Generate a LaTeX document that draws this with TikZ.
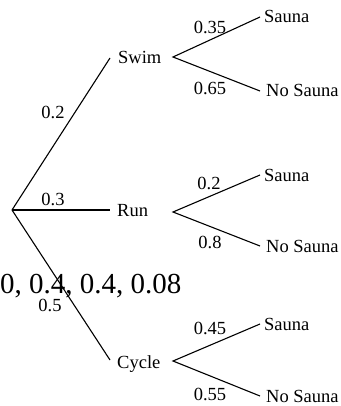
\documentclass[tikz,border=0pt]{standalone}
\usepackage{fontspec}
\setmainfont{Liberation Serif}
\begin{document}
\begin{tikzpicture}[x=1pt,y=-1pt,
  branch/.style={line width=1.1pt, black},
  lbl/.style={inner sep=0pt, font=\fontsize{18.5}{20}\selectfont, anchor=base west},
  prob/.style={inner sep=0pt, font=\fontsize{18.5}{20}\selectfont, anchor=base},
  big/.style={inner sep=0pt, font=\fontsize{29}{32}\selectfont, anchor=base west}]
\useasboundingbox (0,0) rectangle (340,406);
% junction points
\coordinate (root) at (12,210);
\coordinate (swimEnd) at (110,58);
\coordinate (runEnd) at (110,210);
\coordinate (cycleEnd) at (110,360);
\coordinate (swimFork) at (173,57);
\coordinate (runFork) at (173,212);
\coordinate (cycleFork) at (173,361);
\coordinate (sS) at (260,17);
\coordinate (sN) at (260,91);
\coordinate (rS) at (260,175);
\coordinate (rN) at (260,246);
\coordinate (cS) at (260,324);
\coordinate (cN) at (260,396);
% stray text
\node[big] (stray) at (0,293) {0, 0.4, 0.4, 0.08};
% first level
\draw[branch] (root) -- (swimEnd);
\draw[branch] (root) -- (runEnd);
\draw[branch] (root) -- (cycleEnd);
\node[lbl] (swim) at (118,64) {Swim};
\node[lbl] (run) at (117,216) {Run};
\node[lbl] (cycle) at (117,368) {Cycle};
\node[prob] (p1) at (53,119) {0.2};
\node[prob] (p2) at (53,205) {0.3};
\node[prob] (p3) at (50,311) {0.5};
% second level
\draw[branch] (sS) -- (swimFork) -- (sN);
\draw[branch] (rS) -- (runFork) -- (rN);
\draw[branch] (cS) -- (cycleFork) -- (cN);
\node[lbl] (t1) at (264,23) {Sauna};
\node[lbl] (t2) at (266,97) {No Sauna};
\node[lbl] (t3) at (264,181) {Sauna};
\node[lbl] (t4) at (266,252) {No Sauna};
\node[lbl] (t5) at (264,330) {Sauna};
\node[lbl] (t6) at (266,402) {No Sauna};
\node[prob] (q1) at (210,34) {0.35};
\node[prob] (q2) at (210,95) {0.65};
\node[prob] (q3) at (209,189) {0.2};
\node[prob] (q4) at (210,248) {0.8};
\node[prob] (q5) at (210,334) {0.45};
\node[prob] (q6) at (210,400) {0.55};
\end{tikzpicture}
\end{document}
